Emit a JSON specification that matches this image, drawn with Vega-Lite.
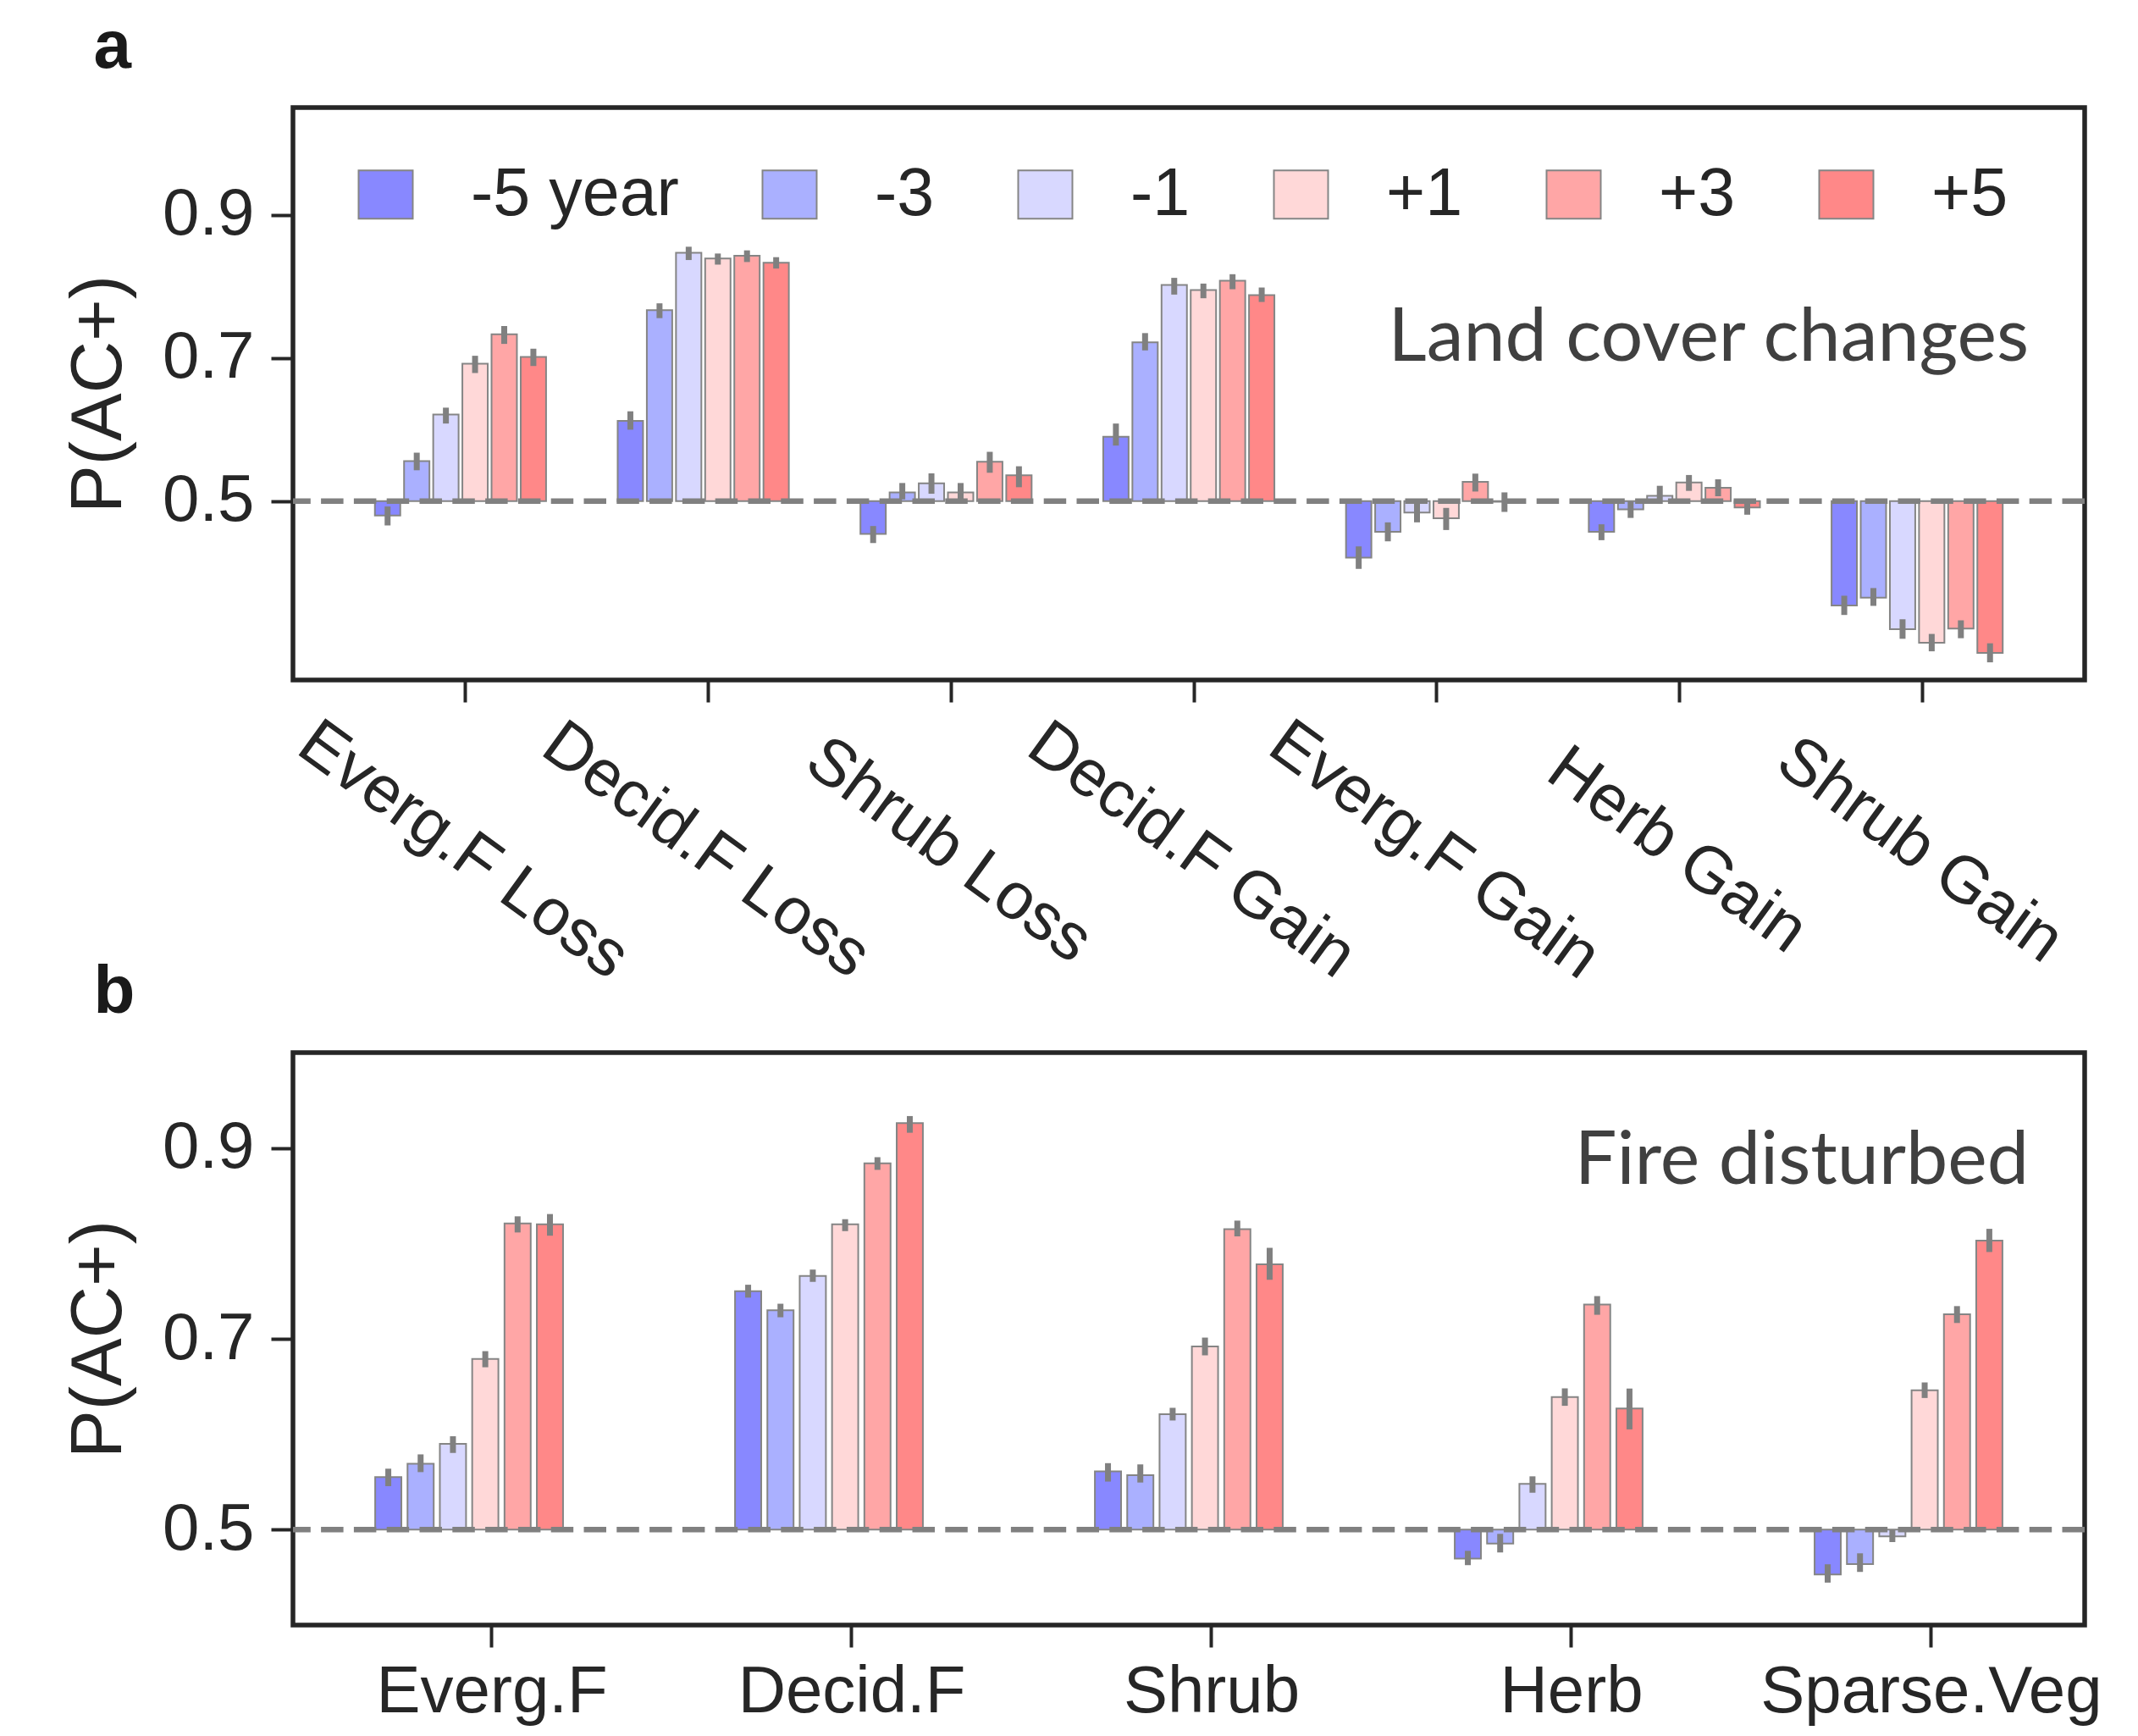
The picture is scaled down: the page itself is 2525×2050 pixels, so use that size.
{
  "$schema": "https://vega.github.io/schema/vega-lite/v6.json",
  "background": "white",
  "padding": {"left": 71, "top": 13, "right": 10, "bottom": 10},
  "spacing": -45,
  "config": {
    "font": "Liberation Sans",
    "view": {"stroke": "#262626", "strokeWidth": 5.5},
    "axis": {"labelFont": "Liberation Sans", "titleFont": "Liberation Sans", "labelColor": "#262626", "titleColor": "#262626", "tickColor": "#262626", "domain": false, "grid": false}
  },
  "resolve": {"scale": {"x": "independent", "y": "independent", "xOffset": "independent", "color": "independent"}, "legend": {"color": "independent"}},
  "datasets": {
    "landcover": [
      {"cat": "Everg.F Loss", "year": "-5 year", "value": 0.480, "lo": 0.466, "hi": 0.4925},
      {"cat": "Everg.F Loss", "year": "-3", "value": 0.556, "lo": 0.5431, "hi": 0.5677},
      {"cat": "Everg.F Loss", "year": "-1", "value": 0.621, "lo": 0.6084, "hi": 0.6306},
      {"cat": "Everg.F Loss", "year": "+1", "value": 0.692, "lo": 0.679, "hi": 0.7031},
      {"cat": "Everg.F Loss", "year": "+3", "value": 0.733, "lo": 0.7197, "hi": 0.7447},
      {"cat": "Everg.F Loss", "year": "+5", "value": 0.7015, "lo": 0.6888, "hi": 0.713},
      {"cat": "Decid.F Loss", "year": "-5 year", "value": 0.612, "lo": 0.5998, "hi": 0.6255},
      {"cat": "Decid.F Loss", "year": "-3", "value": 0.767, "lo": 0.7557, "hi": 0.7764},
      {"cat": "Decid.F Loss", "year": "-1", "value": 0.847, "lo": 0.8369, "hi": 0.8555},
      {"cat": "Decid.F Loss", "year": "+1", "value": 0.839, "lo": 0.8305, "hi": 0.846},
      {"cat": "Decid.F Loss", "year": "+3", "value": 0.843, "lo": 0.8341, "hi": 0.8504},
      {"cat": "Decid.F Loss", "year": "+5", "value": 0.833, "lo": 0.825, "hi": 0.8409},
      {"cat": "Shrub Loss", "year": "-5 year", "value": 0.454, "lo": 0.4414, "hi": 0.4652},
      {"cat": "Shrub Loss", "year": "-3", "value": 0.512, "lo": 0.5024, "hi": 0.5253},
      {"cat": "Shrub Loss", "year": "-1", "value": 0.525, "lo": 0.5103, "hi": 0.5388},
      {"cat": "Shrub Loss", "year": "+1", "value": 0.512, "lo": 0.5024, "hi": 0.5253},
      {"cat": "Shrub Loss", "year": "+3", "value": 0.555, "lo": 0.5396, "hi": 0.5689},
      {"cat": "Shrub Loss", "year": "+5", "value": 0.536, "lo": 0.5194, "hi": 0.5487},
      {"cat": "Decid.F Gain", "year": "-5 year", "value": 0.590, "lo": 0.5776, "hi": 0.6084},
      {"cat": "Decid.F Gain", "year": "-3", "value": 0.722, "lo": 0.7106, "hi": 0.7348},
      {"cat": "Decid.F Gain", "year": "-1", "value": 0.802, "lo": 0.7886, "hi": 0.812},
      {"cat": "Decid.F Gain", "year": "+1", "value": 0.795, "lo": 0.7835, "hi": 0.804},
      {"cat": "Decid.F Gain", "year": "+3", "value": 0.808, "lo": 0.7961, "hi": 0.8171},
      {"cat": "Decid.F Gain", "year": "+5", "value": 0.788, "lo": 0.7783, "hi": 0.7985},
      {"cat": "Everg.F Gain", "year": "-5 year", "value": 0.421, "lo": 0.4053, "hi": 0.4367},
      {"cat": "Everg.F Gain", "year": "-3", "value": 0.457, "lo": 0.4438, "hi": 0.4703},
      {"cat": "Everg.F Gain", "year": "-1", "value": 0.484, "lo": 0.4703, "hi": 0.4964},
      {"cat": "Everg.F Gain", "year": "+1", "value": 0.476, "lo": 0.4596, "hi": 0.4905},
      {"cat": "Everg.F Gain", "year": "+3", "value": 0.527, "lo": 0.5134, "hi": 0.5384},
      {"cat": "Everg.F Gain", "year": "+5", "value": 0.499, "lo": 0.4849, "hi": 0.5122},
      {"cat": "Herb Gain", "year": "-5 year", "value": 0.457, "lo": 0.4454, "hi": 0.4676},
      {"cat": "Herb Gain", "year": "-3", "value": 0.4885, "lo": 0.4765, "hi": 0.4995},
      {"cat": "Herb Gain", "year": "-1", "value": 0.5075, "lo": 0.4961, "hi": 0.5214},
      {"cat": "Herb Gain", "year": "+1", "value": 0.526, "lo": 0.5143, "hi": 0.5365},
      {"cat": "Herb Gain", "year": "+3", "value": 0.5186, "lo": 0.5068, "hi": 0.5305},
      {"cat": "Herb Gain", "year": "+5", "value": 0.491, "lo": 0.481, "hi": 0.5024},
      {"cat": "Shrub Gain", "year": "-5 year", "value": 0.354, "lo": 0.3409, "hi": 0.3678},
      {"cat": "Shrub Gain", "year": "-3", "value": 0.365, "lo": 0.3536, "hi": 0.3785},
      {"cat": "Shrub Gain", "year": "-1", "value": 0.321, "lo": 0.3076, "hi": 0.3349},
      {"cat": "Shrub Gain", "year": "+1", "value": 0.302, "lo": 0.2901, "hi": 0.3144},
      {"cat": "Shrub Gain", "year": "+3", "value": 0.322, "lo": 0.3084, "hi": 0.3334},
      {"cat": "Shrub Gain", "year": "+5", "value": 0.288, "lo": 0.2747, "hi": 0.3013}
    ],
    "fire": [
      {"cat": "Everg.F", "year": "-5 year", "value": 0.555, "lo": 0.5456, "hi": 0.5639},
      {"cat": "Everg.F", "year": "-3", "value": 0.569, "lo": 0.5603, "hi": 0.5789},
      {"cat": "Everg.F", "year": "-1", "value": 0.590, "lo": 0.5804, "hi": 0.5979},
      {"cat": "Everg.F", "year": "+1", "value": 0.679, "lo": 0.6702, "hi": 0.6871},
      {"cat": "Everg.F", "year": "+3", "value": 0.821, "lo": 0.8115, "hi": 0.8284},
      {"cat": "Everg.F", "year": "+5", "value": 0.820, "lo": 0.8081, "hi": 0.8308},
      {"cat": "Decid.F", "year": "-5 year", "value": 0.750, "lo": 0.7432, "hi": 0.7567},
      {"cat": "Decid.F", "year": "-3", "value": 0.730, "lo": 0.7226, "hi": 0.7368},
      {"cat": "Decid.F", "year": "-1", "value": 0.766, "lo": 0.7597, "hi": 0.7726},
      {"cat": "Decid.F", "year": "+1", "value": 0.820, "lo": 0.8129, "hi": 0.8254},
      {"cat": "Decid.F", "year": "+3", "value": 0.884, "lo": 0.8771, "hi": 0.8904},
      {"cat": "Decid.F", "year": "+5", "value": 0.926, "lo": 0.916, "hi": 0.9335},
      {"cat": "Shrub", "year": "-5 year", "value": 0.561, "lo": 0.5504, "hi": 0.5697},
      {"cat": "Shrub", "year": "-3", "value": 0.557, "lo": 0.5494, "hi": 0.5684},
      {"cat": "Shrub", "year": "-1", "value": 0.621, "lo": 0.6144, "hi": 0.6277},
      {"cat": "Shrub", "year": "+1", "value": 0.692, "lo": 0.6827, "hi": 0.7013},
      {"cat": "Shrub", "year": "+3", "value": 0.815, "lo": 0.8074, "hi": 0.8239},
      {"cat": "Shrub", "year": "+5", "value": 0.778, "lo": 0.7619, "hi": 0.7954},
      {"cat": "Herb", "year": "-5 year", "value": 0.4696, "lo": 0.4628, "hi": 0.4778},
      {"cat": "Herb", "year": "-3", "value": 0.4855, "lo": 0.4761, "hi": 0.4956},
      {"cat": "Herb", "year": "-1", "value": 0.548, "lo": 0.5387, "hi": 0.5559},
      {"cat": "Herb", "year": "+1", "value": 0.639, "lo": 0.6298, "hi": 0.6481},
      {"cat": "Herb", "year": "+3", "value": 0.736, "lo": 0.7252, "hi": 0.7448},
      {"cat": "Herb", "year": "+5", "value": 0.627, "lo": 0.6051, "hi": 0.6479},
      {"cat": "Sparse.Veg", "year": "-5 year", "value": 0.453, "lo": 0.4445, "hi": 0.4637},
      {"cat": "Sparse.Veg", "year": "-3", "value": 0.4638, "lo": 0.4557, "hi": 0.4752},
      {"cat": "Sparse.Veg", "year": "-1", "value": 0.493, "lo": 0.487, "hi": 0.4995},
      {"cat": "Sparse.Veg", "year": "+1", "value": 0.646, "lo": 0.638, "hi": 0.6543},
      {"cat": "Sparse.Veg", "year": "+3", "value": 0.7257, "lo": 0.7166, "hi": 0.7343},
      {"cat": "Sparse.Veg", "year": "+5", "value": 0.803, "lo": 0.791, "hi": 0.8153}
    ]
  },
  "vconcat": [
    {
      "title": {"text": "a", "anchor": "start", "frame": "bounds", "fontSize": 80, "fontWeight": "bold", "font": "Liberation Sans", "color": "#1a1a1a", "offset": 30, "dx": 36},
      "width": 2116,
      "height": 676,
      "layer": [
        {
          "data": {"name": "landcover"},
          "mark": {"type": "bar", "stroke": "#858585", "strokeWidth": 2},
          "encoding": {
            "x": {"field": "cat", "type": "nominal", "sort": ["Everg.F Loss", "Decid.F Loss", "Shrub Loss", "Decid.F Gain", "Everg.F Gain", "Herb Gain", "Shrub Gain"],
              "scale": {"domain": ["Everg.F Loss", "Decid.F Loss", "Shrub Loss", "Decid.F Gain", "Everg.F Gain", "Herb Gain", "Shrub Gain"], "paddingInner": 0.295, "paddingOuter": 0.3375},
              "axis": {"title": null, "labelAngle": 36, "labelAlign": "center", "labelBaseline": "middle", "labelPadding": 175, "labelOffset": 3, "labelFontSize": 78, "labelLimit": 2000, "labelOverlap": false, "tickSize": 26, "tickWidth": 4, "bandPosition": 0.53}},
            "xOffset": {"field": "year", "type": "nominal", "sort": ["-5 year", "-3", "-1", "+1", "+3", "+5"], "scale": {"domain": ["-5 year", "-3", "-1", "+1", "+3", "+5"], "paddingInner": 0.13, "paddingOuter": 0}},
            "y": {"field": "value", "type": "quantitative", "scale": {"domain": [0.25, 1.05], "nice": false, "zero": false},
              "axis": {"values": [0.5, 0.7, 0.9], "format": ".1f", "labelFontSize": 78, "labelPadding": 20, "tickSize": 26, "tickWidth": 4, "title": "P(AC+)", "titleFontSize": 85, "titleFontWeight": "normal", "titlePadding": 31}},
            "y2": {"datum": 0.5},
            "color": {"field": "year", "type": "nominal", "sort": ["-5 year", "-3", "-1", "+1", "+3", "+5"],
              "scale": {"domain": ["-5 year", "-3", "-1", "+1", "+3", "+5"], "range": ["#8888ff", "#aab0ff", "#d8d8ff", "#ffd8d8", "#ffa6a6", "#ff8888"]},
              "legend": {"orient": "none", "legendX": 70, "legendY": 63, "direction": "horizontal", "title": null, "symbolType": "M-1,-0.89H1V0.89H-1Z", "symbolSize": 4096, "symbolStrokeColor": "#858585", "symbolStrokeWidth": 2, "symbolOpacity": 1, "labelFontSize": 79, "labelFont": "Liberation Sans", "labelColor": "#262626", "labelOffset": 61, "columnPadding": 91, "labelLimit": 1000}}
          }
        },
        {
          "data": {"values": [{"ref": 0.5}]},
          "mark": {"type": "rule", "stroke": "#808080", "strokeWidth": 6.5, "strokeDash": [26.5, 12.3]},
          "encoding": {"y": {"field": "ref", "type": "quantitative"}}
        },
        {
          "data": {"name": "landcover"},
          "mark": {"type": "rule", "stroke": "#808080", "strokeWidth": 7},
          "encoding": {
            "x": {"field": "cat", "type": "nominal", "sort": ["Everg.F Loss", "Decid.F Loss", "Shrub Loss", "Decid.F Gain", "Everg.F Gain", "Herb Gain", "Shrub Gain"]},
            "xOffset": {"field": "year", "type": "nominal", "sort": ["-5 year", "-3", "-1", "+1", "+3", "+5"]},
            "y": {"field": "lo", "type": "quantitative"},
            "y2": {"field": "hi"}
          }
        },
        {
          "data": {"values": [{"label": "Land cover changes", "cat": "Shrub Gain", "ypos": 0.696}]},
          "mark": {"type": "text", "font": "Lato", "fontSize": 88, "color": "#404040", "align": "right", "baseline": "alphabetic", "dx": 132},
          "encoding": {
            "x": {"field": "cat", "type": "nominal", "sort": ["Everg.F Loss", "Decid.F Loss", "Shrub Loss", "Decid.F Gain", "Everg.F Gain", "Herb Gain", "Shrub Gain"]},
            "y": {"field": "ypos", "type": "quantitative"},
            "text": {"field": "label"}
          }
        }
      ]
    },
    {
      "title": {"text": "b", "anchor": "start", "frame": "bounds", "fontSize": 80, "fontWeight": "bold", "font": "Liberation Sans", "color": "#1a1a1a", "offset": 30, "dx": 36},
      "width": 2116,
      "height": 676,
      "layer": [
        {
          "data": {"name": "fire"},
          "mark": {"type": "bar", "stroke": "#858585", "strokeWidth": 2},
          "encoding": {
            "x": {"field": "cat", "type": "nominal", "sort": ["Everg.F", "Decid.F", "Shrub", "Herb", "Sparse.Veg"],
              "scale": {"domain": ["Everg.F", "Decid.F", "Shrub", "Herb", "Sparse.Veg"], "paddingInner": 0.478, "paddingOuter": 0.2285},
              "axis": {"title": null, "labelAngle": 0, "labelPadding": 14, "labelOffset": 27, "labelFontSize": 78, "labelLimit": 2000, "labelOverlap": false, "tickSize": 26, "tickWidth": 4, "bandPosition": 0.62}},
            "xOffset": {"field": "year", "type": "nominal", "sort": ["-5 year", "-3", "-1", "+1", "+3", "+5"], "scale": {"domain": ["-5 year", "-3", "-1", "+1", "+3", "+5"], "paddingInner": 0.19, "paddingOuter": 0}},
            "y": {"field": "value", "type": "quantitative", "scale": {"domain": [0.4, 1.0], "nice": false, "zero": false},
              "axis": {"values": [0.5, 0.7, 0.9], "format": ".1f", "labelFontSize": 78, "labelPadding": 20, "tickSize": 26, "tickWidth": 4, "title": "P(AC+)", "titleFontSize": 85, "titleFontWeight": "normal", "titlePadding": 31}},
            "y2": {"datum": 0.5},
            "color": {"field": "year", "type": "nominal", "sort": ["-5 year", "-3", "-1", "+1", "+3", "+5"],
              "scale": {"domain": ["-5 year", "-3", "-1", "+1", "+3", "+5"], "range": ["#8888ff", "#aab0ff", "#d8d8ff", "#ffd8d8", "#ffa6a6", "#ff8888"]},
              "legend": null}
          }
        },
        {
          "data": {"values": [{"ref": 0.5}]},
          "mark": {"type": "rule", "stroke": "#808080", "strokeWidth": 6.5, "strokeDash": [26.5, 12.3]},
          "encoding": {"y": {"field": "ref", "type": "quantitative"}}
        },
        {
          "data": {"name": "fire"},
          "mark": {"type": "rule", "stroke": "#808080", "strokeWidth": 7},
          "encoding": {
            "x": {"field": "cat", "type": "nominal", "sort": ["Everg.F", "Decid.F", "Shrub", "Herb", "Sparse.Veg"]},
            "xOffset": {"field": "year", "type": "nominal", "sort": ["-5 year", "-3", "-1", "+1", "+3", "+5"]},
            "y": {"field": "lo", "type": "quantitative"},
            "y2": {"field": "hi"}
          }
        },
        {
          "data": {"values": [{"label": "Fire disturbed", "cat": "Sparse.Veg", "ypos": 0.8626}]},
          "mark": {"type": "text", "font": "Lato", "fontSize": 88, "color": "#404040", "align": "right", "baseline": "alphabetic", "dx": 142},
          "encoding": {
            "x": {"field": "cat", "type": "nominal", "sort": ["Everg.F", "Decid.F", "Shrub", "Herb", "Sparse.Veg"]},
            "y": {"field": "ypos", "type": "quantitative"},
            "text": {"field": "label"}
          }
        }
      ]
    }
  ]
}
